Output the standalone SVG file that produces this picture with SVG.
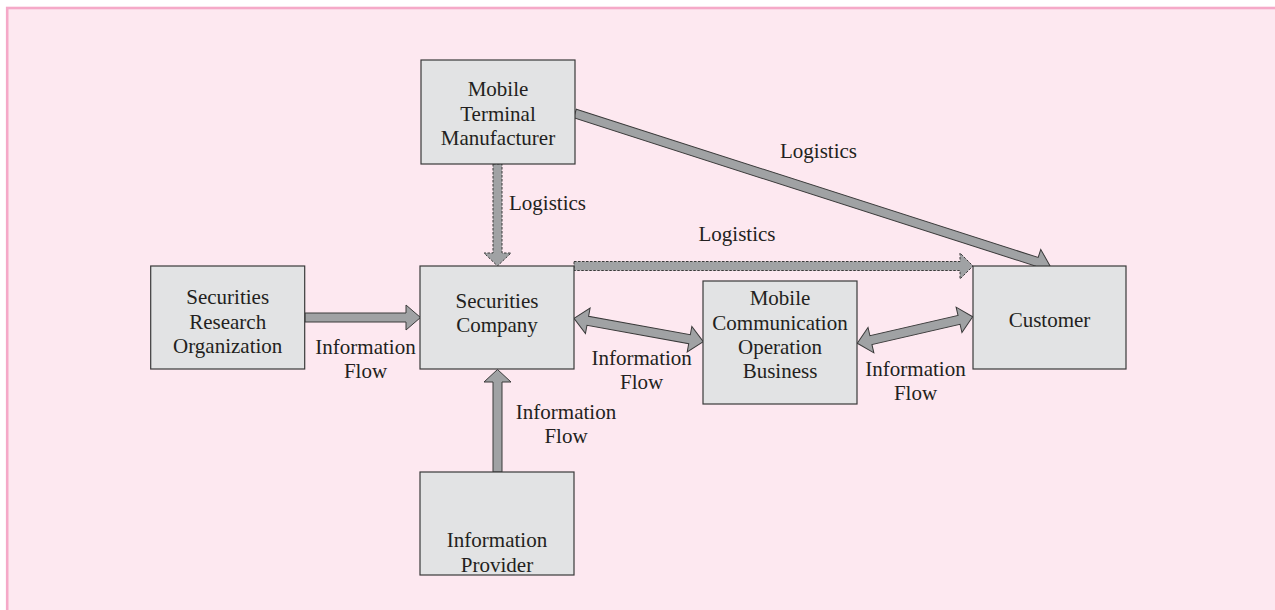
<svg xmlns="http://www.w3.org/2000/svg" width="1275" height="610" viewBox="0 0 1275 610">
  <style>
    .node rect { fill: #e2e3e4; stroke: #3a3a3a; stroke-width: 1.2; }
    text { font-family: "Liberation Serif", "Times New Roman", serif; font-size: 21px; fill: #231f20; }
    .node text, .lbl { text-anchor: middle; }
    .arrow { fill: #a0a2a4; stroke: #3a3a3a; stroke-width: 1; stroke-linejoin: miter; }
    .dotted { stroke-dasharray: 2.5 1.5; }
  </style>

  <!-- page background -->
  <rect x="0" y="0" width="1275" height="610" fill="#ffffff"/>
  <rect x="7.2" y="8" width="1290" height="620" fill="#fde8f0" stroke="#f5a9c8" stroke-width="2.6"/>

  <!-- connectors -->
  <g id="connectors">
    <!-- Mobile Terminal Manufacturer -> Securities Company (logistics) -->
    <polygon class="arrow dotted" points="493,164 502,164 502,253 511,253 497.5,266 484,253 493,253"/>
    <!-- Securities Company -> Customer (logistics) -->
    <polygon class="arrow dotted" points="574,261.5 960,261.5 960,253 973,266 960,279 960,270.5 574,270.5"/>
    <!-- Mobile Terminal Manufacturer -> Customer (logistics) -->
    <polygon class="arrow" transform="translate(575,113.5) rotate(17.8)" points="0,-4.5 485,-4.5 485,-13 499,0 485,13 485,4.5 0,4.5"/>
    <!-- Securities Research Organization -> Securities Company -->
    <polygon class="arrow" points="305,313 406,313 406,305 420.5,317.5 406,330 406,322 305,322"/>
    <!-- Information Provider -> Securities Company -->
    <polygon class="arrow" points="493,472 493,382 484,382 497.5,369.5 511,382 502,382 502,472"/>
    <!-- Securities Company <-> Mobile Communication Operation Business -->
    <polygon class="arrow" transform="translate(574,318.3) rotate(10.26)" points="0,0 14,-13 14,-4.5 117.4,-4.5 117.4,-13 131.4,0 117.4,13 117.4,4.5 14,4.5 14,13"/>
    <!-- Mobile Communication Operation Business <-> Customer -->
    <polygon class="arrow" transform="translate(857.3,343.3) rotate(-12.98)" points="0,0 14,-13 14,-4.5 104.4,-4.5 104.4,-13 118.4,0 104.4,13 104.4,4.5 14,4.5 14,13"/>
  </g>

  <!-- connector labels -->
  <g id="labels">
    <text x="509" y="210">Logistics</text>
    <text x="780" y="158">Logistics</text>
    <text class="lbl" x="737" y="241">Logistics</text>
    <text class="lbl" x="365.5" y="354">Information</text>
    <text class="lbl" x="365.5" y="378">Flow</text>
    <text class="lbl" x="641.7" y="365">Information</text>
    <text class="lbl" x="641.7" y="389">Flow</text>
    <text class="lbl" x="915.5" y="376">Information</text>
    <text class="lbl" x="915.5" y="400">Flow</text>
    <text class="lbl" x="566" y="419">Information</text>
    <text class="lbl" x="566" y="443">Flow</text>
  </g>

  <!-- nodes -->
  <g id="mobile-terminal-manufacturer" class="node">
    <rect x="421" y="60" width="154" height="104"/>
    <text x="498" y="96">Mobile</text>
    <text x="498" y="121">Terminal</text>
    <text x="498" y="145">Manufacturer</text>
  </g>
  <g id="securities-research-organization" class="node">
    <rect x="150.7" y="266" width="154" height="103"/>
    <text x="227.7" y="304">Securities</text>
    <text x="227.7" y="329">Research</text>
    <text x="227.7" y="353">Organization</text>
  </g>
  <g id="securities-company" class="node">
    <rect x="420" y="266" width="154" height="103"/>
    <text x="497" y="308">Securities</text>
    <text x="497" y="332">Company</text>
  </g>
  <g id="mobile-communication-operation-business" class="node">
    <rect x="703" y="281" width="154" height="123"/>
    <text x="780" y="305">Mobile</text>
    <text x="780" y="330">Communication</text>
    <text x="780" y="354">Operation</text>
    <text x="780" y="378">Business</text>
  </g>
  <g id="customer" class="node">
    <rect x="973" y="266" width="153" height="103"/>
    <text x="1049.5" y="327">Customer</text>
  </g>
  <g id="information-provider" class="node">
    <rect x="420" y="472" width="154" height="103"/>
    <text x="497" y="547">Information</text>
    <text x="497" y="572">Provider</text>
  </g>
</svg>
